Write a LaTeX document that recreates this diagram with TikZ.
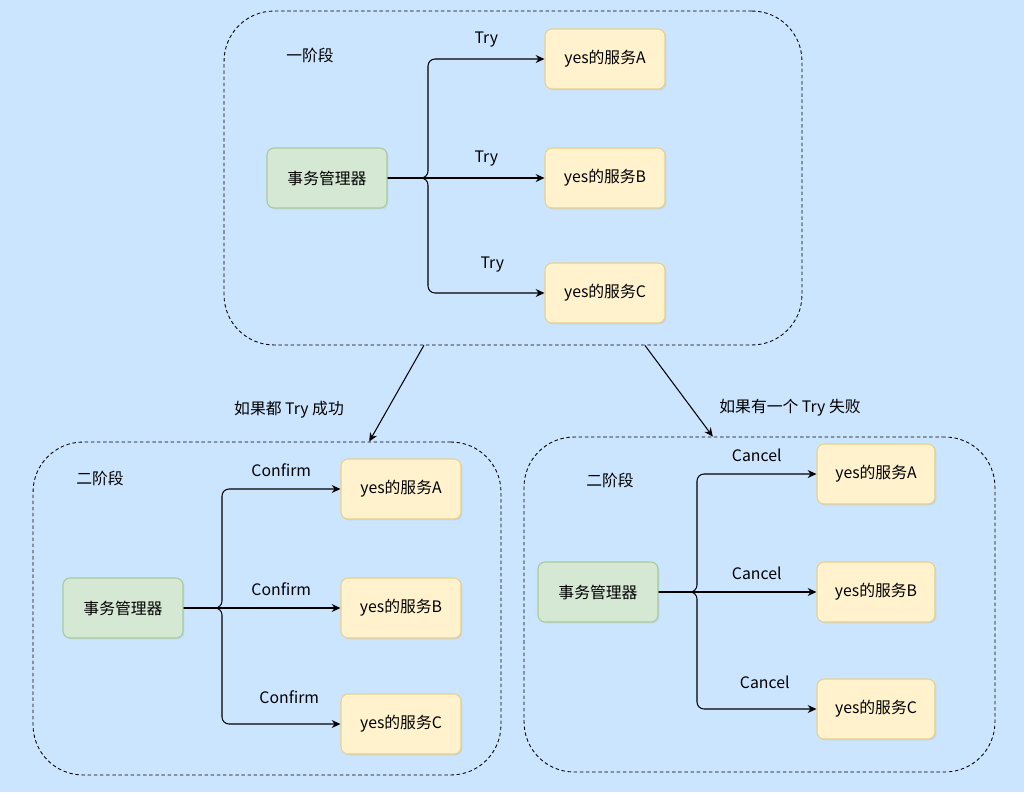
\documentclass[tikz,border=0pt]{standalone}
\usepackage{fontspec}
\setmainfont{Noto Sans CJK SC}
\usetikzlibrary{arrows.meta,calc,shadows}
\definecolor{bgblue}{HTML}{CCE5FF}
\definecolor{mgrfill}{HTML}{D5E8D4}
\definecolor{mgrline}{HTML}{82B366}
\definecolor{svcfill}{HTML}{FFF2CC}
\definecolor{svcline}{HTML}{D6B656}
\begin{document}
\begin{tikzpicture}[x=0.02cm, y=-0.02cm, font=\fontsize{9pt}{11pt}\selectfont,
  stage/.style={draw, line width=0.5pt, dash pattern=on 2pt off 1.5pt, rounded corners=1cm},
  mgr/.style={draw=mgrline!55!mgrfill, fill=mgrfill, line width=0.6pt, rounded corners=4pt, minimum width=2.4cm, minimum height=1.2cm, drop shadow={opacity=0.15, shadow xshift=0.8pt, shadow yshift=-0.8pt}},
  svc/.style={draw=svcline!55!svcfill, fill=svcfill, line width=0.6pt, rounded corners=4pt, minimum width=2.4cm, minimum height=1.2cm, drop shadow={opacity=0.15, shadow xshift=0.8pt, shadow yshift=-0.8pt}},
  flow/.style={-{Stealth[length=5pt,width=4.5pt]}, line width=0.6pt, rounded corners=4pt},
  lbl/.style={above=5.5pt, inner sep=1pt}]
\useasboundingbox (0,0) rectangle (1024,792);
\fill[bgblue] (0,0) rectangle (1024,792);
% stage containers
\node[stage, minimum width=11.56cm, minimum height=6.68cm] (s1) at (513,178) {};
\node[stage, minimum width=9.36cm, minimum height=6.66cm] (s2) at (267,608.5) {};
\node[stage, minimum width=9.42cm, minimum height=6.7cm] (s3) at (759.5,604.5) {};
\node (t1) at (310,55) {一阶段};
\node (t2) at (100,478) {二阶段};
\node (t3) at (610,480) {二阶段};
% phase one
\node[mgr] (m1) at (327,178) {事务管理器};
\node[svc] (a1) at (605,59) {yes的服务A};
\node[svc] (b1) at (605,178) {yes的服务B};
\node[svc] (c1) at (605,293) {yes的服务C};
\coordinate (j1) at (428,178);
\draw[flow] (m1) -- (j1) |- (a1) node[lbl, pos=0.75] {Try};
\draw[flow] (m1) -- (j1) -- (b1) node[lbl, midway] {Try};
\draw[flow] (m1) -- (j1) |- (c1) node[lbl, pos=0.75, above=5pt, xshift=0.12cm] {Try};
% between phases
\draw[flow] ($(s1.south west)!0.346!(s1.south east)$) -- ($(s2.north west)!0.718!(s2.north east)$);
\draw[flow] ($(s1.south west)!0.728!(s1.south east)$) -- ($(s3.north west)!0.401!(s3.north east)$);
\node (r1) at (289,410) {如果都 Try 成功};
\node (r2) at (790,408) {如果有一个 Try 失败};
% phase two, confirm
\node[mgr] (m2) at (123,608) {事务管理器};
\node[svc] (a2) at (401,489) {yes的服务A};
\node[svc] (b2) at (401,608) {yes的服务B};
\node[svc] (c2) at (401,724) {yes的服务C};
\coordinate (j2) at (222,608);
\draw[flow] (m2) -- (j2) |- (a2) node[lbl, pos=0.75] {Confirm};
\draw[flow] (m2) -- (j2) -- (b2) node[lbl, midway] {Confirm};
\draw[flow] (m2) -- (j2) |- (c2) node[lbl, pos=0.75, above=5pt, xshift=0.16cm] {Confirm};
% phase two, cancel
\node[mgr] (m3) at (598,592) {事务管理器};
\node[svc, minimum width=2.36cm] (a3) at (876,474) {yes的服务A};
\node[svc, minimum width=2.36cm] (b3) at (876,592) {yes的服务B};
\node[svc, minimum width=2.36cm] (c3) at (876,709) {yes的服务C};
\coordinate (j3) at (697,592);
\draw[flow] (m3) -- (j3) |- (a3) node[lbl, pos=0.75] {Cancel};
\draw[flow] (m3) -- (j3) -- (b3) node[lbl, midway] {Cancel};
\draw[flow] (m3) -- (j3) |- (c3) node[lbl, pos=0.75, above=5pt, xshift=0.16cm] {Cancel};
\end{tikzpicture}
\end{document}
